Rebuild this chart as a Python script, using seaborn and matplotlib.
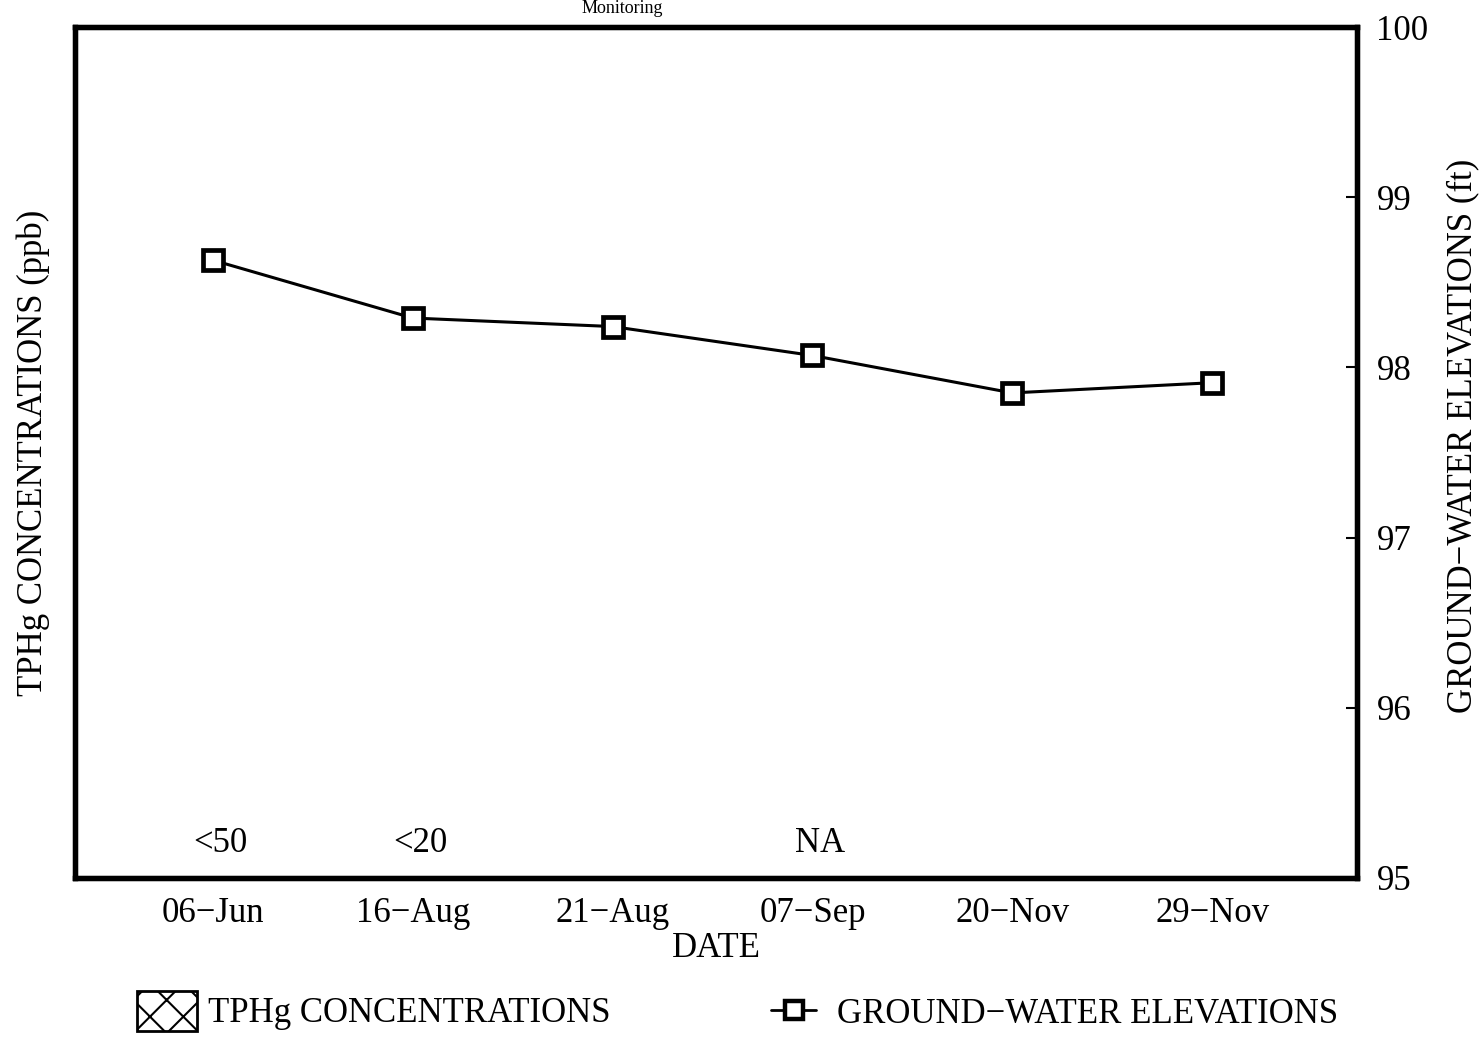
import matplotlib
matplotlib.use("Agg")
import matplotlib.pyplot as plt
import seaborn as sns
import pandas as pd
from matplotlib.patches import Patch
from matplotlib.lines import Line2D

dates = ["06\u2212Jun", "16\u2212Aug", "21\u2212Aug", "07\u2212Sep", "20\u2212Nov", "29\u2212Nov"]
elevations = [98.63, 98.29, 98.24, 98.07, 97.85, 97.91]
tphg_labels = ["<50", "<20", "", "NA", "", ""]
right_ticks = [95, 96, 97, 98, 99, 100]

sns.set_theme(style="white")
plt.rcParams["font.family"] = ["Liberation Serif", "DejaVu Serif"]
plt.rcParams["hatch.linewidth"] = 1.5
plt.rcParams["text.color"] = "black"
plt.rcParams["axes.labelcolor"] = "black"
plt.rcParams["xtick.color"] = "black"
plt.rcParams["ytick.color"] = "black"

FS = 25

fig = plt.figure(figsize=(14.79, 10.39), dpi=100)
ax = fig.add_axes([0.0507, 0.155, 0.8668, 0.819])
ax2 = ax.twinx()

df = pd.DataFrame({"date": dates, "elev": elevations})
sns.lineplot(data=df, x="date", y="elev", sort=False, ax=ax2, color="black",
             linewidth=2.2, marker="s", markersize=15, markerfacecolor="white",
             markeredgecolor="black", markeredgewidth=3.4)

ax2.set_ylim(95, 100)
ax2.set_yticks(right_ticks)
ax2.set_yticklabels([str(t) for t in right_ticks], fontsize=FS)
ax2.tick_params(axis="y", direction="in", length=8, width=1.5, pad=14,
                colors="black", labelcolor="black")
ax2.set_ylabel("GROUND\u2212WATER ELEVATIONS (ft)", fontsize=FS, color="black")
ax2.yaxis.set_label_coords(1.070, 0.52)
ax2.set_xlim(-0.69, 5.725)
ax.set_xlim(-0.69, 5.725)

ax.set_yticks([])
ax.set_ylabel("TPHg CONCENTRATIONS (ppb)", fontsize=FS, labelpad=18, color="black")
ax2.set_xlabel("")
ax.set_xticks(range(len(dates)))
ax.set_xticklabels(dates, fontsize=FS)
ax.tick_params(axis="x", length=0, pad=14, labelcolor="black")
ax.set_xlabel("DATE", fontsize=FS, labelpad=1, color="black")
ax2.tick_params(axis="x", length=0)

for a in (ax, ax2):
    for s in a.spines.values():
        s.set_linewidth(3.8)
        s.set_color("black")

for i, lab in enumerate(tphg_labels):
    if lab:
        ax2.text(i + 0.04, 95.2, lab, ha="center", va="center", fontsize=FS, color="black")

fig.text(0.4205, 1.0, "Monitoring", ha="center", va="top", fontsize=13, color="black")

h1 = Patch(facecolor="white", edgecolor="black", hatch="x", linewidth=2)
leg1 = fig.legend(handles=[h1], labels=["TPHg CONCENTRATIONS"], loc="center left",
                  bbox_to_anchor=(0.083, 0.027), frameon=False, fontsize=FS,
                  handlelength=1.75, handleheight=1.4, handletextpad=0.3,
                  borderaxespad=0, labelcolor="black")
h2 = Line2D([0], [0], color="black", linewidth=2, marker="s", markersize=13,
            markerfacecolor="white", markeredgecolor="black", markeredgewidth=3.2)
leg2 = fig.legend(handles=[h2], labels=["GROUND\u2212WATER ELEVATIONS"], loc="center left",
                  bbox_to_anchor=(0.512, 0.024), frameon=False, fontsize=FS,
                  handlelength=1.3, handletextpad=0.6, borderaxespad=0, labelcolor="black")

fig.savefig("out.png", dpi=100, facecolor="white")
